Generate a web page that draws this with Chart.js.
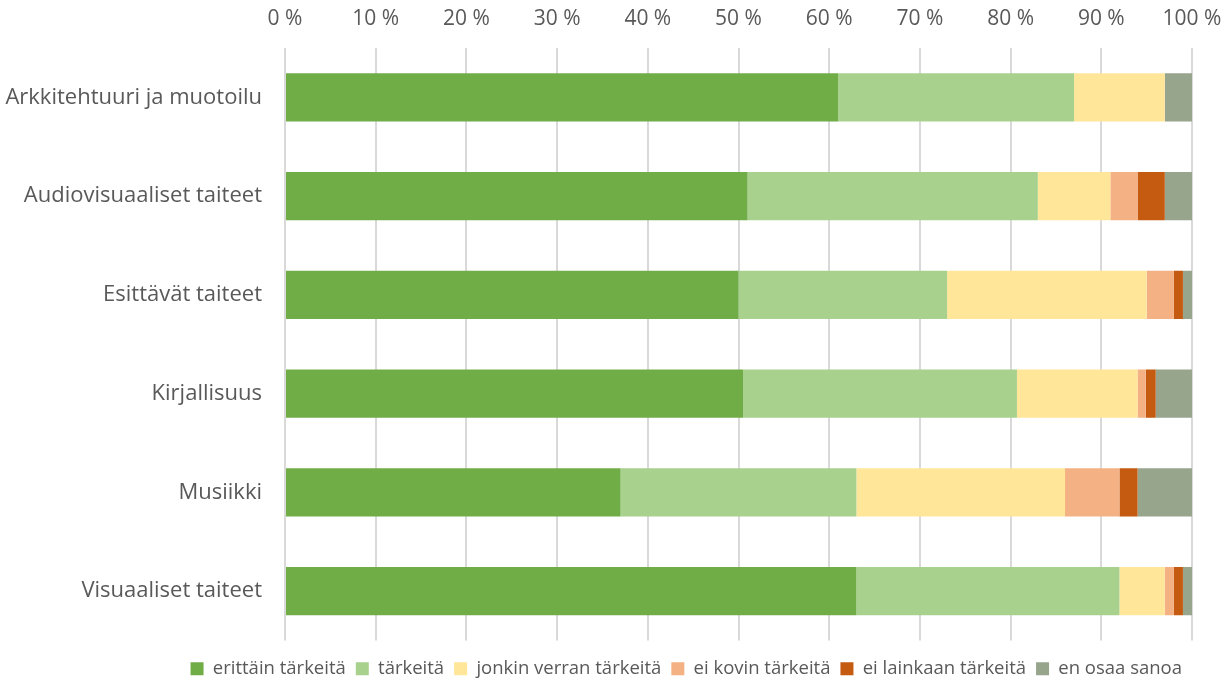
<!DOCTYPE html>
<html>
<head>
<meta charset="utf-8">
<script src="https://cdn.jsdelivr.net/npm/chart.js@4"></script>
<style>
  html, body { margin: 0; padding: 0; background: #fff; }
  #wrap { width: 1227px; height: 688px; }
</style>
</head>
<body>
<div id="wrap"><canvas id="chart" width="1227" height="688"></canvas></div>
<script>
  const categories = [
    'Arkkitehtuuri ja muotoilu',
    'Audiovisuaaliset taiteet',
    'Esittävät taiteet',
    'Kirjallisuus',
    'Musiikki',
    'Visuaaliset taiteet',
  ];
  const seriesNames = [
    'erittäin tärkeitä',
    'tärkeitä',
    'jonkin verran tärkeitä',
    'ei kovin tärkeitä',
    'ei lainkaan tärkeitä',
    'en osaa sanoa',
  ];
  const erittainTarkeita = [61, 51, 50, 50.5, 37, 63];
  const tarkeita = [26, 32, 23, 30.2, 26, 29];
  const jonkinVerran = [10, 8, 22, 13.3, 23, 5];
  const eiKovin = [0, 3, 3, 0.9, 6, 1];
  const eiLainkaan = [0, 3, 1, 1.1, 2, 1];
  const enOsaa = [3, 3, 1, 4, 6, 1];
  const xTicks = [0, 10, 20, 30, 40, 50, 60, 70, 80, 90, 100];

  const colors = ['#70ad47', '#a9d18e', '#ffe699', '#f4b183', '#c55a11', '#97a58c'];
  const values = [erittainTarkeita, tarkeita, jonkinVerran, eiKovin, eiLainkaan, enOsaa];
  const font = 'Open Sans';

  new Chart(document.getElementById('chart'), {
    type: 'bar',
    data: {
      labels: categories,
      datasets: seriesNames.map((name, i) => ({
        label: name,
        data: values[i],
        backgroundColor: colors[i],
        borderWidth: 0,
        barPercentage: 0.49,
        categoryPercentage: 1,
      })),
    },
    options: {
      indexAxis: 'y',
      responsive: false,
      animation: false,
      layout: { padding: { top: 6, right: 35, bottom: 0, left: 0 } },
      plugins: {
        tooltip: { enabled: false },
        legend: {
          position: 'bottom',
          align: 'end',
          labels: {
            boxWidth: 13,
            boxHeight: 13,
            padding: 10,
            color: '#595959',
            font: { family: font, size: 18.5 },
          },
        },
      },
      scales: {
        x: {
          position: 'top',
          stacked: true,
          min: 0,
          max: 100,
          afterBuildTicks: (axis) => { axis.ticks = xTicks.map((v) => ({ value: v })); },
          afterFit: (axis) => {
            axis.height = 42;
            axis.paddingLeft = 0;
            axis.paddingRight = 0;
          },
          ticks: {
            color: '#595959',
            padding: 16,
            font: { family: font, size: 21 },
            callback: (v) => v + ' %',
          },
          grid: { color: '#d9d9d9', lineWidth: 2, drawTicks: false },
          border: { display: false },
        },
        // empty bottom axis, only keeps a gap above the legend
        gap: {
          type: 'linear',
          axis: 'x',
          position: 'bottom',
          afterFit: (axis) => {
            axis.height = 9;
            axis.paddingLeft = 0;
            axis.paddingRight = 0;
          },
          ticks: { display: false },
          grid: { display: false, drawTicks: false },
          border: { display: false },
        },
        y: {
          stacked: true,
          afterFit: (axis) => { axis.width = 285; },
          ticks: {
            color: '#595959',
            padding: 23,
            font: { family: font, size: 22 },
          },
          grid: { display: false, drawTicks: false },
          border: { display: false },
        },
      },
    },
  });
</script>
</body>
</html>
